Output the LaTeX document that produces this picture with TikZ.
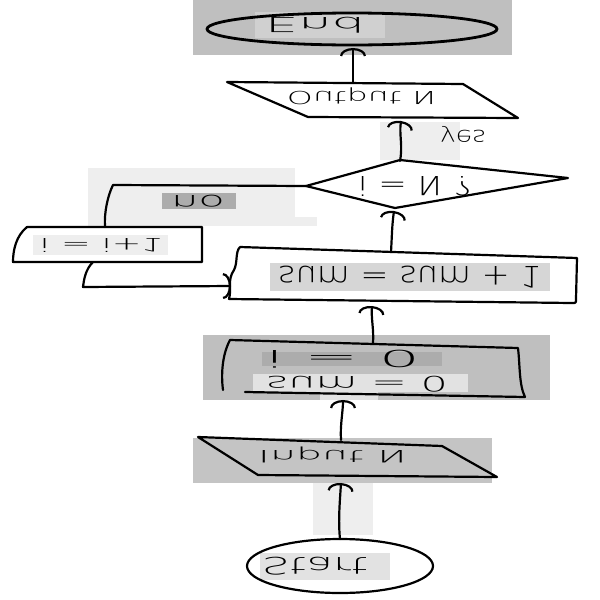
\documentclass[tikz,border=0pt]{standalone}
\usepackage{fontspec}
\newfontfamily\hand{DejaVu Sans ExtraLight}
\usetikzlibrary{arrows.meta}
% grey tones of the scanned sheet
\definecolor{panel}{RGB}{191,191,191}
\definecolor{panelB}{RGB}{196,196,196}
\definecolor{band}{RGB}{214,214,214}
\definecolor{bandL}{RGB}{226,226,226}
\definecolor{haze}{RGB}{238,238,238}
\definecolor{dark}{RGB}{172,172,172}
% text written upside down, squeezed into a given box
\newcommand{\fliptext}[3]{\scalebox{1}[-1]{\resizebox*{#1}{#2}{\hand #3}}}
\begin{document}
\begin{tikzpicture}[x=0.5pt,y=-0.5pt,line width=1.1pt,line join=round,line cap=round,
  arr/.style={draw=black,-{Arc Barb[width=13pt,length=4pt]}},
  wire/.style={draw=black},
  lbl/.style={inner sep=0pt}]
\useasboundingbox (0,0) rectangle (600,600);
\fill[white] (0,0) rectangle (600,600);

% grey patches behind parts of the sheet
\fill[panel] (193,0) rectangle (512,55);
\fill[panelB!80!white] (255,12) rectangle (385,38);
\fill[haze] (380,122) rectangle (460,160);
\fill[haze] (88,168) rectangle (295,217);
\fill[haze] (88,217) rectangle (317,226);
\fill[dark] (162,193) rectangle (236,209);
\fill[haze] (33,235) rectangle (168,255);
\fill[band] (270,263) rectangle (550,291);
\fill[panel] (203,335) rectangle (550,400);
\fill[dark] (262,352) rectangle (442,366);
\fill[bandL] (253,374) rectangle (468,392);
\fill[bandL] (320,392) rectangle (378,400);
\fill[panelB] (193,438) rectangle (492,483);
\fill[haze] (313,483) rectangle (373,535);
\fill[bandL] (260,553) rectangle (390,580);

% shapes
\draw[line width=1.4pt] (352,29) ellipse [x radius=145, y radius=16];
\draw (227,82) -- (463,84) -- (518,118) -- (308,117) -- cycle;
\draw (306,186) -- (400,160) -- (568,178) -- (395,208) -- cycle;
\draw (13,262) .. controls (13,250) and (16,236) .. (27,227) -- (202,227) -- (202,262) -- cycle;
\draw (240,247) -- (577,258) -- (576,299) .. controls (576,303) .. (572,303) -- (229,299)
      .. controls (232,288) and (227,280) .. (234,270) .. controls (238,262) and (235,252) .. (240,247);
\draw (230,340) -- (518,348) .. controls (520,365) and (519,385) .. (525,397) -- (245,392);
\draw (230,340) .. controls (222,355) and (221,375) .. (223,390);
\draw (198,437) -- (442,446) -- (497,477) -- (258,475) -- cycle;
\draw (340,566) ellipse [x radius=93, y radius=27];

% anchor points of the connectors
\coordinate (endB) at (353,48);
\coordinate (outT) at (353,83);
\coordinate (outB) at (401,121);
\coordinate (diaT) at (400,161);
\coordinate (diaL) at (306,186);
\coordinate (diaB) at (394,211);
\coordinate (noC) at (113,185);
\coordinate (incT) at (105,227);
\coordinate (incB) at (93,262);
\coordinate (loopC) at (83,287);
\coordinate (sumL) at (231,286);
\coordinate (sumT) at (391,252);
\coordinate (sumB) at (372,306);
\coordinate (iniT) at (373,343);
\coordinate (iniB) at (343,400);
\coordinate (inT) at (341,440);
\coordinate (inB) at (341,483);
\coordinate (stT) at (340,539);

% connectors
\draw[arr] (outT) -- (endB);
\draw[arr] (diaT) .. controls (403,145) and (399,135) .. (outB);
\draw[wire] (diaL) -- (noC) .. controls (108,195) and (104,212) .. (incT);
\draw[arr] (incB) .. controls (85,270) and (84,280) .. (loopC) -- (sumL);
\draw[arr] (sumT) .. controls (392,235) and (392,225) .. (diaB);
\draw[arr] (iniT) .. controls (374,330) and (371,318) .. (sumB);
\draw[arr] (inT) .. controls (340,425) and (343,412) .. (iniB);
\draw[arr] (stT) .. controls (338,520) and (340,500) .. (inB);

% labels
\node[lbl] (tEnd) at (315,25) {\fliptext{50pt}{8pt}{End}};
\node[lbl] (tOut) at (362,96) {\fliptext{75pt}{8.5pt}{Output N}};
\node[lbl] (tYes) at (463,134) {\fliptext{23pt}{8pt}{yes}};
\node[lbl] (tDia) at (415,186) {\fliptext{57pt}{10pt}{i = N ?}};
\node[lbl] (tNo) at (198,201) {\fliptext{27pt}{6pt}{no}};
\node[lbl] (tInc) at (102,245) {\fliptext{62pt}{7pt}{i = i+1}};
\node[lbl] (tSum) at (410,277) {\fliptext{132pt}{11pt}{sum = sum + 1}};
\node[lbl] (tI) at (343,359) {\fliptext{77pt}{9pt}{i = 0}};
\node[lbl] (tS) at (357,384) {\fliptext{91pt}{8pt}{sum = 0}};
\node[lbl] (tIn) at (333,455) {\fliptext{75pt}{8pt}{Input N}};
\node[lbl] (tSt) at (315,566) {\fliptext{53pt}{9pt}{Start}};
\end{tikzpicture}
\end{document}
